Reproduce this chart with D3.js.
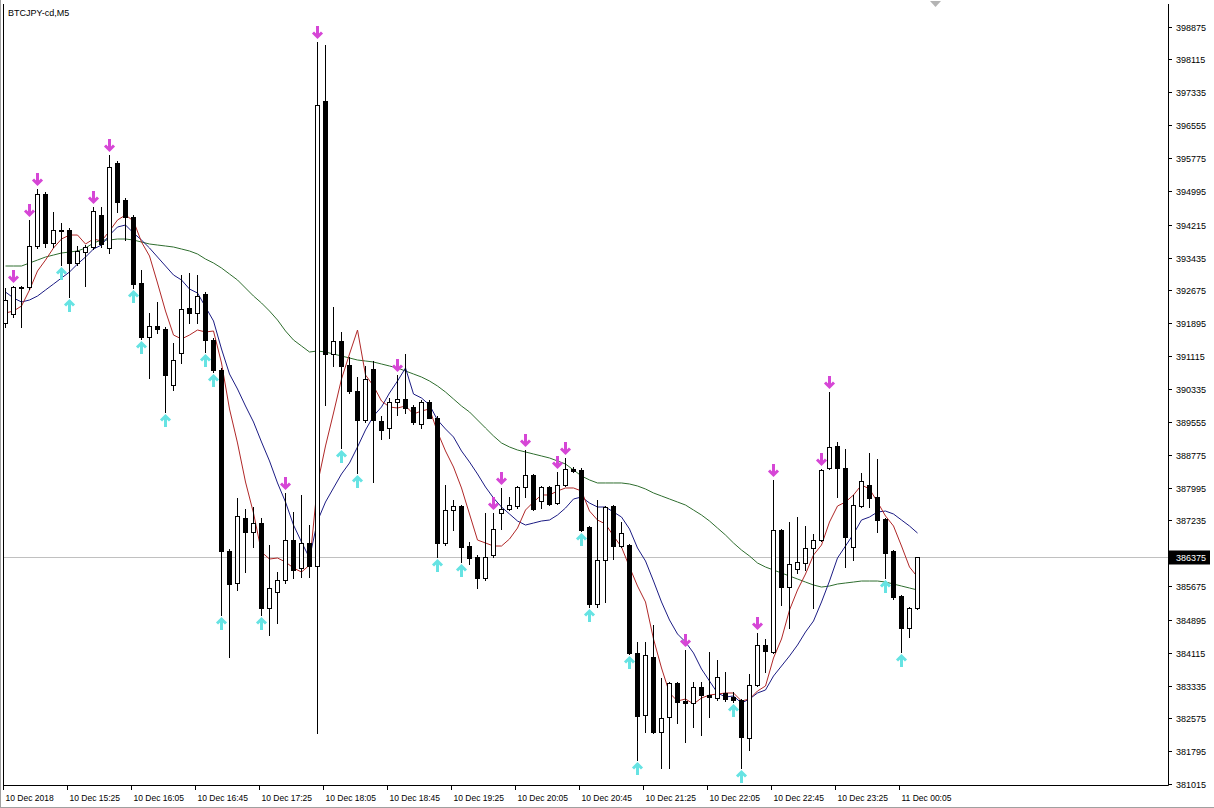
<!DOCTYPE html>
<html><head><meta charset="utf-8">
<script src="https://cdn.jsdelivr.net/npm/d3@7"></script>
<style>body{margin:0;background:#fff;} svg{display:block;font-family:"Liberation Sans",Arial,sans-serif;}</style>
</head><body><svg id="c" width="1214" height="808"></svg>
<script>
const symbolTitle = "BTCJPY-cd,M5";
const timeLabels = ["10 Dec 2018","10 Dec 15:25","10 Dec 16:05","10 Dec 16:45","10 Dec 17:25","10 Dec 18:05","10 Dec 18:45","10 Dec 19:25","10 Dec 20:05","10 Dec 20:45","10 Dec 21:25","10 Dec 22:05","10 Dec 22:45","10 Dec 23:25","11 Dec 00:05"];
const timeLabelBars = [0,8,16,24,32,40,48,56,64,72,80,88,96,104,112];
const priceTicks = [398875,398115,397335,396555,395775,394995,394215,393435,392675,391895,391115,390335,389555,388775,387995,387235,385675,384895,384115,383335,382575,381795,381015];
const currentPrice = 386375;

const open = [391891,392104,392740,392740,393708,394935,393779,394085,394085,393307,
393566,393684,394439,393661,395667,394793,394392,392835,391561,391821,
391750,390429,391184,392245,392127,392575,391490,390782,386512,385757,
387290,386960,387172,385167,385544,385828,386771,386111,386701,386158,
397129,391160,391467,390900,390287,389603,390806,389580,389414,390028,
390098,389910,389509,390028,389650,386701,387479,387573,386630,386370,
385875,386417,387408,387503,387573,388022,388306,387691,388022,387644,
388070,388447,388423,387078,385262,386299,387573,386630,386653,384106,
382643,384011,382242,382596,383398,382973,382926,383303,383115,383044,
383162,383068,382997,382100,383351,384294,384129,387007,385662,386087,
386229,386583,386771,388471,388990,388471,386606,387573,388070,387787,
387267,386512,385450,384695,385167];
const high = [392717,392764,392764,394321,395053,394982,394510,394250,394132,393708,
393731,394628,394628,395855,395714,394841,394439,393141,392127,392387,
391797,391420,393024,393071,393024,392622,391537,390830,386559,387763,
387503,387550,387290,386653,386016,387881,387432,387834,387125,398521,
398450,392269,391679,391089,390617,390877,390995,389698,390122,390665,
391160,389957,390075,390075,389698,388070,387715,387597,386724,386417,
387408,387408,387999,387787,388046,388895,388329,388046,388046,388376,
388707,388494,388471,387102,387715,387573,387597,387196,386677,384365,
384365,384766,383516,383421,383421,384176,383421,383421,384129,383940,
383657,383185,383020,383610,384577,384436,388188,387031,387196,387314,
387102,386913,388447,390263,389084,388919,387834,388353,388825,388683,
387290,386535,385474,385191,386375];
const low = [391797,392033,391797,392693,393661,393684,393684,393259,392505,393259,
392764,393637,393684,393543,394510,393849,392717,391514,390594,391655,
389792,390311,390948,391891,391891,391207,390735,385002,384011,385592,
386016,386606,385002,384530,384813,385757,385875,385898,385898,382218,
389957,390877,388943,390240,388353,389556,388140,389155,389178,389721,
389768,389509,389414,389650,386370,386653,387007,386252,386205,385639,
385828,386370,387031,387479,387526,387787,387479,387526,387597,387621,
388046,388376,386984,385191,385191,385309,386323,386606,384082,381581,
382242,382218,381393,381393,382454,382006,382360,382171,382596,382997,
382973,382950,381393,381817,383327,383657,384106,385238,384695,385993,
386063,385167,386748,388447,387787,386134,386299,387550,387550,386960,
385875,385379,384129,384483,385144];
const close = [392434,392740,392717,393708,394935,393779,394085,394062,393307,393590,
393684,394533,393755,395572,394746,394392,392811,391561,391821,391750,
390665,391018,392222,392127,392528,391490,390782,386512,385733,387338,
386960,387172,385167,385639,385828,386771,386063,386701,386158,397035,
391160,391467,390877,390287,389603,390570,389603,389367,390028,390098,
389886,389556,390028,389650,386701,387479,387573,386606,386347,385875,
386370,387031,387503,387597,388022,388306,387503,388022,387621,388070,
388447,388400,387007,385262,386299,387550,386630,386936,384106,382620,
384058,382242,382572,383398,382950,382926,383303,383115,383068,383539,
383020,382997,382124,383351,384294,384153,387007,385662,386205,386252,
386583,386771,388423,388966,388471,386842,387597,388164,387763,387243,
386465,385427,384695,385167,386375];

const maRed = [392127,392174,392292,392670,393118,393377,393661,393873,393967,393967,
393755,393873,393826,394062,394321,394439,394298,393802,393472,392835,
392174,391608,391514,391608,391726,391679,391703,390948,389863,389061,
388140,387408,386488,386323,386347,386252,386111,386016,386181,388093,
388990,389768,390570,391160,391726,390665,390405,390051,389910,389886,
389933,389745,389815,389863,389320,388872,388494,387999,387385,386771,
386701,386630,386630,386795,387054,387479,387668,387834,387834,387928,
387999,387999,387928,387455,387243,387149,386866,386606,386134,385686,
385309,384436,383752,383162,382973,383020,382903,383044,383115,383138,
383162,383162,382973,383020,383209,383327,383988,384436,385120,385592,
385969,386417,386653,387196,387573,387668,387834,388070,387975,387668,
387338,387102,386630,386134,385898];
const maBlue = [392622,392481,392387,392434,392528,392670,392811,392953,393094,393283,
393448,393637,393731,393967,394156,394203,394014,393849,393661,393448,
393236,393024,392906,392693,392599,392269,391939,391278,390688,390334,
389933,389556,389084,388636,388117,387668,387125,386724,386347,387220,
387668,387999,388329,388589,388966,389367,389698,389910,390240,390523,
390830,390216,390122,389957,389603,389391,389202,388872,388612,388329,
388022,387763,387550,387385,387220,387125,387172,387220,387243,387361,
387526,387739,387787,387644,387550,387550,387432,387314,387031,386583,
386276,385804,385309,384884,384554,384365,384106,383728,383445,383162,
383068,383091,382926,383020,383162,383233,383563,383799,384035,384294,
384601,384861,385309,385804,386347,386630,386913,387243,387314,387432,
387455,387385,387243,387102,386936];
const maGreen = [393236,393236,393236,393307,393377,393448,393495,393543,393566,393590,
393661,393779,393849,393849,393873,393873,393849,393802,393755,393731,
393708,393684,393637,393590,393519,393401,393307,393189,393047,392906,
392717,392528,392363,392174,391962,391703,391490,391349,391207,391231,
391207,391160,391113,391066,391018,390995,390971,390924,390877,390830,
390759,390688,390617,390523,390405,390263,390098,389933,389792,389603,
389414,389226,389061,388966,388895,388848,388801,388754,388707,388636,
388565,388423,388282,388188,388117,388117,388117,388117,388093,388046,
387975,387881,387810,387739,387668,387597,387479,387361,387220,387054,
386889,386701,386535,386394,386229,386134,386063,385993,385922,385851,
385780,385710,385662,385686,385733,385757,385780,385804,385804,385804,
385780,385733,385686,385639,385592];

const downArrowBars = [1,3,4,11,13,35,39,49,61,62,65,69,70,85,94,96,102,103];
const upArrowBars = [7,8,16,17,20,25,26,27,32,42,44,54,57,72,73,78,79,91,92,110,112];

const svg = d3.select("#c");
const W = 1214, H = 808;
const plot = {left: 4, right: 1168, top: 4, bottom: 785};
const n = close.length;
const x = d3.scaleLinear().domain([0, n - 1]).range([5.5, 5.5 + 8 * (n - 1)]);
const y = d3.scaleLinear().domain([398875, 381015]).range([27, 784]);
const py = v => Math.round(y(v)) + 0.5;

svg.append("rect").attr("width", W).attr("height", H).attr("fill", "#fff");
svg.append("defs").append("clipPath").attr("id", "clip")
  .append("rect").attr("x", plot.left).attr("y", plot.top)
  .attr("width", plot.right - plot.left).attr("height", plot.bottom - plot.top);

// current price line
svg.append("line").attr("x1", plot.left).attr("x2", plot.right)
  .attr("y1", py(currentPrice)).attr("y2", py(currentPrice))
  .attr("stroke", "#c0c0c0").attr("stroke-width", 1);

const g = svg.append("g").attr("clip-path", "url(#clip)");

// moving averages
const line = d3.line().x((d, i) => x(i)).y(d => y(d));
[[maGreen, "#2f6e2f"], [maBlue, "#1c1c84"], [maRed, "#b02828"]].forEach(([arr, col]) => {
  g.append("path").datum(arr).attr("d", line).attr("fill", "none")
    .attr("stroke", col).attr("stroke-width", 1);
});

// candles
const idx = d3.range(n);
g.selectAll("line.wick").data(idx).join("line").attr("class", "wick")
  .attr("x1", i => x(i)).attr("x2", i => x(i))
  .attr("y1", i => Math.round(y(high[i]))).attr("y2", i => Math.round(y(low[i])) + 1)
  .attr("stroke", "#000").attr("stroke-width", 1);
idx.forEach(i => {
  const o = Math.round(y(open[i])), c = Math.round(y(close[i]));
  const cx = x(i);
  if (Math.abs(o - c) < 1) {
    g.append("line").attr("x1", cx - 2.5).attr("x2", cx + 2.5)
      .attr("y1", o + 0.5).attr("y2", o + 0.5).attr("stroke", "#000");
  } else if (close[i] > open[i]) {
    g.append("rect").attr("x", cx - 2).attr("y", c + 0.5)
      .attr("width", 4).attr("height", o - c)
      .attr("fill", "#fff").attr("stroke", "#000").attr("stroke-width", 1);
  } else {
    g.append("rect").attr("x", cx - 2.5).attr("y", o)
      .attr("width", 5).attr("height", c - o + 1)
      .attr("fill", "#000");
  }
});

// arrows
const downPath = "M0,-6V5M-4.5,0.5L0,5L4.5,0.5";
const upPath = "M0,6V-5M-4.5,-0.5L0,-5L4.5,-0.5";
g.selectAll("path.dn").data(downArrowBars).join("path").attr("class", "dn")
  .attr("d", downPath)
  .attr("transform", i => `translate(${x(i)},${Math.round(y(high[i])) - 10})`)
  .attr("fill", "none").attr("stroke", "#d646d6").attr("stroke-width", 3);
g.selectAll("path.up").data(upArrowBars).join("path").attr("class", "up")
  .attr("d", upPath)
  .attr("transform", i => `translate(${x(i)},${Math.round(y(low[i])) + 9})`)
  .attr("fill", "none").attr("stroke", "#66e3e3").attr("stroke-width", 3);

// frame
svg.append("path").attr("d", `M${plot.left - 0.5},${plot.top}V${plot.bottom + 0.5}H${plot.right + 0.5}V${plot.top}`)
  .attr("fill", "none").attr("stroke", "#000").attr("stroke-width", 1);
svg.append("line").attr("x1", 0.5).attr("x2", 0.5).attr("y1", 0).attr("y2", H)
  .attr("stroke", "#a0a0a0");
svg.append("line").attr("x1", 0).attr("x2", W).attr("y1", H - 0.5).attr("y2", H - 0.5)
  .attr("stroke", "#a0a0a0");

// shift marker
svg.append("path").attr("d", "M930,1L941,1L935.5,7Z").attr("fill", "#b4b4b4");

// title
svg.append("text").attr("x", 8).attr("y", 16).attr("font-size", 9).attr("fill", "#000")
  .text(symbolTitle);

// price axis
const ya = svg.append("g");
priceTicks.forEach(p => {
  const yy = py(p);
  ya.append("line").attr("x1", plot.right + 0.5).attr("x2", plot.right + 4)
    .attr("y1", yy).attr("y2", yy).attr("stroke", "#000");
  ya.append("text").attr("x", 1176).attr("y", yy + 3.5).attr("font-size", 9)
    .attr("fill", "#000").text(p);
});
const cy = py(currentPrice);
ya.append("rect").attr("x", 1169).attr("y", cy - 7).attr("width", 41).attr("height", 14).attr("fill", "#000");
ya.append("text").attr("x", 1176).attr("y", cy + 3.5).attr("font-size", 9)
  .attr("fill", "#fff").text(currentPrice);

// time axis
const xa = svg.append("g");
timeLabelBars.forEach((b, k) => {
  const tx = Math.round(x(b) - 2.5) + 0.5;
  xa.append("line").attr("x1", tx).attr("x2", tx).attr("y1", plot.bottom)
    .attr("y2", plot.bottom + 5).attr("stroke", "#000");
  xa.append("text").attr("x", tx + 2).attr("y", 801).attr("font-size", 8.5)
    .attr("fill", "#000").text(timeLabels[k]);
});
</script></body></html>
